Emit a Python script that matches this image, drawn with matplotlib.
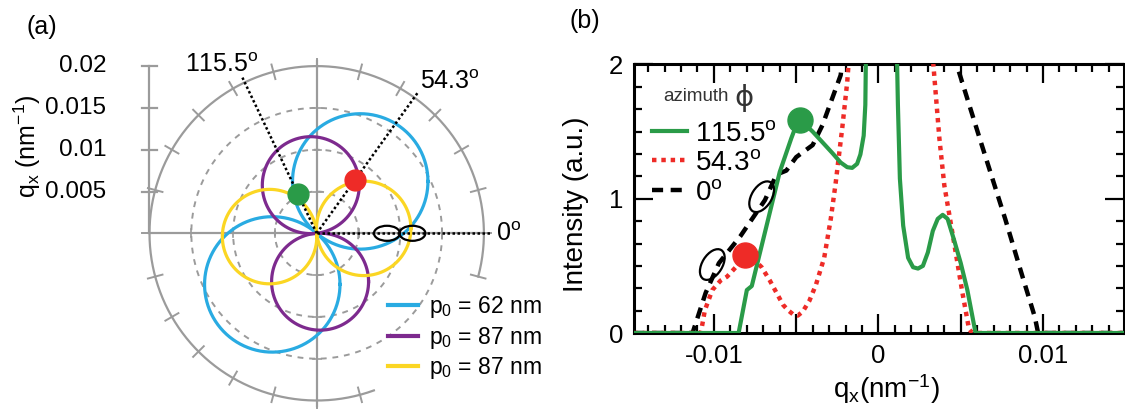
import numpy as np
import matplotlib
matplotlib.use('Agg')
import matplotlib.pyplot as plt
from matplotlib.patches import Ellipse
from matplotlib.lines import Line2D
from matplotlib.ticker import MultipleLocator, FuncFormatter
from matplotlib import transforms

plt.rcParams['font.family'] = ['Liberation Sans', 'DejaVu Sans']
plt.rcParams['mathtext.fontset'] = 'custom'
plt.rcParams['mathtext.rm'] = 'Liberation Sans'
plt.rcParams['mathtext.it'] = 'Liberation Sans:italic'
plt.rcParams['mathtext.bf'] = 'Liberation Sans:bold'

# ---------------- panel (a) data ----------------
petal_labels = ['p$_0$ = 62 nm', 'p$_0$ = 87 nm', 'p$_0$ = 87 nm']
petal_colors = ['#29abe2', '#7d2a8e', '#fbd623']
petal_diameter = [0.0162, 0.0116, 0.0113]          # nm^-1
petal_angles = [[50, 229], [97, 274], [6, 184]]     # deg, direction of each lobe

ring_radii = [0.005, 0.01, 0.015]
r_ticks = [0.005, 0.01, 0.015, 0.02]
r_ticklabels = ['0.005', '0.01', '0.015', '0.02']
r_max = 0.02

azimuths = [115.5, 54.3, 0.0]
azimuth_labels = ['115.5$^{\\rm o}$', '54.3$^{\\rm o}$', '0$^{\\rm o}$']
peak_azimuth = [115.5, 54.3]
peak_r = [0.0052, 0.0079]
peak_colors = ['#2a9b48', '#ee2b27']
zero_cross_q = [0.0084, 0.01145]

# ---------------- panel (b) data ----------------
qx_green = [-0.0149, -0.0085, -0.0080, -0.0077, -0.0068, -0.0060, -0.0053, -0.0049,
            -0.0046, -0.0040, -0.0034, -0.0028, -0.0023, -0.0019, -0.0016, -0.0013,
            -0.0011, -0.0009, -0.0008, -0.00075, 0.0011, 0.00118, 0.0013, 0.0015,
            0.0018, 0.0021, 0.0024, 0.0027, 0.0030, 0.0033, 0.0036, 0.0039,
            0.0042, 0.0046, 0.0050, 0.0054, 0.0059, 0.0149]
I_green = [0, 0, 0.32, 0.35, 0.80, 1.20, 1.45, 1.58,
           1.57, 1.50, 1.42, 1.34, 1.27, 1.235, 1.23, 1.26,
           1.33, 1.47, 1.70, 2.2, 2.2, 1.70, 1.15, 0.80,
           0.56, 0.49, 0.48, 0.50, 0.60, 0.76, 0.85, 0.88,
           0.85, 0.69, 0.52, 0.32, 0, 0]

qx_red = [-0.0149, -0.0108, -0.01055, -0.0101, -0.0096, -0.0092, -0.0086, -0.0081,
          -0.0076, -0.0071, -0.0066, -0.0062, -0.0058, -0.0055, -0.0052, -0.0049,
          -0.0046, -0.0042, -0.0038, -0.0033, -0.0029, -0.0026, -0.0022, -0.0019,
          -0.0017, 0.0032, 0.0034, 0.0037, 0.0040, 0.0045, 0.0051, 0.0055,
          0.0057, 0.0149]
I_red = [0, 0, 0.17, 0.32, 0.39, 0.42, 0.50, 0.58,
         0.55, 0.49, 0.39, 0.30, 0.21, 0.17, 0.14, 0.13,
         0.16, 0.24, 0.36, 0.56, 0.85, 1.12, 1.53, 1.87,
         2.2, 2.2, 1.90, 1.45, 1.10, 0.74, 0.30, 0.03,
         0, 0]

qx_black = [-0.0149, -0.0113, -0.0105, -0.0097, -0.0084, -0.0069, -0.0062, -0.0056,
            -0.0050, -0.0040, -0.0034, -0.0023, -0.0020, 0.0044, 0.00475, 0.0062,
            0.0077, 0.0088, 0.0095, 0.0097, 0.0149]
I_black = [0, 0, 0.30, 0.52, 0.72, 0.99, 1.18, 1.21,
           1.31, 1.40, 1.55, 1.92, 2.2, 2.2, 2.0, 1.43,
           0.85, 0.40, 0.12, 0, 0]

curve_labels = ['115.5$^{\\rm o}$', '54.3$^{\\rm o}$', '0$^{\\rm o}$']
dot_qx = [-0.0048, -0.0081]
dot_I = [1.59, 0.58]
ring_qx = [-0.0071, -0.0101]
ring_I = [1.015, 0.51]

GREEN = '#2a9b48'
RED = '#ee2b27'
GRAY = '#9b9b9b'

W, H = 1125, 411
fig = plt.figure(figsize=(W / 100, H / 100), dpi=100)

# ---------------- panel (a) ----------------
# equal scale, centre placed in pixel coordinates of the figure
scale = 8360.0           # px per nm^-1
cx, cy = 316.7, 233.3    # centre, px from top-left

def pa(x_px, y_px):
    return (x_px - cx) / scale, (cy - y_px) / scale

axa = fig.add_axes([0, 0, 0.5, 1])
axa.set_xlim(-cx / scale, (0.5 * W - cx) / scale)
axa.set_ylim(-(H - cy) / scale, cy / scale)
axa.axis('off')

# outer scale ring with ticks every 15 deg
th = np.radians(np.linspace(-15, 290, 400))
axa.plot(r_max * np.cos(th), r_max * np.sin(th), color=GRAY, lw=1.6, zorder=1)
for a in range(-15, 291, 15):
    t = np.radians(a)
    axa.plot([0.0191 * np.cos(t), 0.0209 * np.cos(t)],
             [0.0191 * np.sin(t), 0.0209 * np.sin(t)], color=GRAY, lw=1.4, zorder=1)

# dashed rings
th_full = np.linspace(0, 2 * np.pi, 400)
for r in ring_radii:
    axa.plot(r * np.cos(th_full), r * np.sin(th_full), color=GRAY, lw=1.4,
             linestyle=(0, (3, 3)), zorder=1)

# cross axes
axa.plot([-r_max, r_max], [0, 0], color=GRAY, lw=1.6, zorder=1)
axa.plot([0, 0], [-0.0206, 0.0206], color=GRAY, lw=1.6, zorder=1)
for r in ring_radii:
    for s in (-1, 1):
        axa.plot([s * r, s * r], [-0.0005, 0.0005], color=GRAY, lw=1.2, zorder=1)
        axa.plot([-0.0005, 0.0005], [s * r, s * r], color=GRAY, lw=1.2, zorder=1)

# left radial scale
axa.plot([-r_max, -r_max], [0, r_max], color=GRAY, lw=1.6, zorder=1)
for r, lab in zip(r_ticks, r_ticklabels):
    axa.plot([-r_max - 0.0009, -r_max + 0.0009], [r, r], color=GRAY, lw=1.6, zorder=1)
    axa.text(-0.0252, r, lab, ha='right', va='center', fontsize=17.5)

# petals (circles through the origin)
handles = []
for lab, col, d, angs in zip(petal_labels, petal_colors, petal_diameter, petal_angles):
    for i, a in enumerate(angs):
        t = np.radians(a)
        x0, y0 = 0.5 * d * np.cos(t), 0.5 * d * np.sin(t)
        axa.plot(x0 + 0.5 * d * np.cos(th_full), y0 + 0.5 * d * np.sin(th_full),
                 color=col, lw=2.3, zorder=3)
        if i == 0:
            handles.append(Line2D([], [], color=col, lw=3.0, label=lab))

# azimuth lines
for a in azimuths:
    t = np.radians(a)
    axa.plot([0, 0.0207 * np.cos(t)], [0, 0.0207 * np.sin(t)], color='black',
             lw=1.8, linestyle=(0, (1, 1)), zorder=4)

label_px = [(222, 65, 'center'), (450, 82, 'center'), (496, 234, 'left')]
for lab, (lx, ly, ha) in zip(azimuth_labels, label_px):
    x, y = pa(lx, ly)
    axa.text(x, y, lab, ha=ha, va='center', fontsize=18)

for a, r, col in zip(peak_azimuth, peak_r, peak_colors):
    t = np.radians(a)
    axa.plot(r * np.cos(t), r * np.sin(t), 'o', color=col, ms=15, zorder=5)

for q in zero_cross_q:
    axa.add_patch(Ellipse((q, 0), 0.0031, 0.0018, fill=False, ec='black', lw=1.6, zorder=5))

x, y = pa(27, 146)
axa.text(x, y, 'q$_{\\rm x}$ (nm$^{-1}$)', rotation=90, ha='center', va='center', fontsize=18)

x, y = pa(388, 294)
axa.legend(handles=handles, loc='upper left', bbox_to_anchor=(x, y),
           bbox_transform=axa.transData, frameon=False, fontsize=16.5,
           handlelength=1.3, handletextpad=0.5, labelspacing=0.2,
           borderpad=0, borderaxespad=0)

# ---------------- panel (b) ----------------
left, right, top, bottom = 634.3, 1124.0, 64.5, 333.0
axb = fig.add_axes([left / W, (H - bottom) / H, (right - left) / W, (bottom - top) / H])

axb.plot(qx_black, I_black, color='black', lw=3.2, linestyle=(0, (2.5, 1.7)), zorder=2,
         label=curve_labels[2])
axb.plot(qx_red, I_red, color=RED, lw=3.2, linestyle=(0, (1, 1.1)), zorder=3,
         label=curve_labels[1])
axb.plot(qx_green, I_green, color=GREEN, lw=3.0, zorder=4, label=curve_labels[0])

axb.plot(dot_qx[0], dot_I[0], 'o', color=GREEN, ms=18, zorder=6)
axb.plot(dot_qx[1], dot_I[1], 'o', color=RED, ms=18, zorder=6)

for q, v in zip(ring_qx, ring_I):
    tr = fig.dpi_scale_trans + transforms.ScaledTranslation(q, v, axb.transData)
    axb.add_patch(Ellipse((0, 0), 0.34, 0.20, angle=58, fill=False, ec='black',
                          lw=1.6, transform=tr, zorder=7))

axb.set_xlim(-0.01484, 0.01492)
axb.set_ylim(0, 2)
axb.xaxis.set_major_locator(MultipleLocator(0.005))
axb.xaxis.set_minor_locator(MultipleLocator(0.001))
axb.yaxis.set_major_locator(MultipleLocator(1))
axb.yaxis.set_minor_locator(MultipleLocator(1 / 6))

def qfmt(v, pos):
    k = v / 0.01
    if abs(k - round(k)) > 1e-6:
        return ''
    if round(k) == 0:
        return '0'
    return '%.2f' % v

axb.xaxis.set_major_formatter(FuncFormatter(qfmt))
axb.yaxis.set_major_formatter(FuncFormatter(lambda v, p: '%d' % round(v)))
axb.tick_params(which='both', direction='in', top=True, right=True, width=1.6,
                labelsize=18.5, pad=8)
axb.tick_params(which='major', length=14)
axb.tick_params(which='minor', length=6)
for sp in axb.spines.values():
    sp.set_linewidth(2.2)

h, l = axb.get_legend_handles_labels()
axb.legend(h[::-1], l[::-1], loc='upper left', bbox_to_anchor=(0.036, 0.79),
           frameon=False, fontsize=20, handlelength=1.25, handletextpad=0.3,
           labelspacing=0.12, borderpad=0, borderaxespad=0)
axb.text(0.0586, 0.879, 'azimuth', transform=axb.transAxes, ha='left', va='center',
         fontsize=13.5, color='#333333')
axb.text(0.2236, 0.876, '\u03d5', transform=axb.transAxes, ha='center', va='center',
         fontsize=21, family='DejaVu Sans', color='#333333')

axb.text(-0.119, 0.48, 'Intensity (a.u.)', transform=axb.transAxes, rotation=90,
         ha='center', va='center', fontsize=20)
axb.text(0.514, -0.21, 'q$_{\\rm x}$(nm$^{-1}$)', transform=axb.transAxes,
         ha='center', va='center', fontsize=20)

fig.text(42 / W, 1 - 27 / H, '(a)', ha='center', va='center', fontsize=18)
fig.text(585 / W, 1 - 21 / H, '(b)', ha='center', va='center', fontsize=18)

fig.savefig('out.png', dpi=100)
